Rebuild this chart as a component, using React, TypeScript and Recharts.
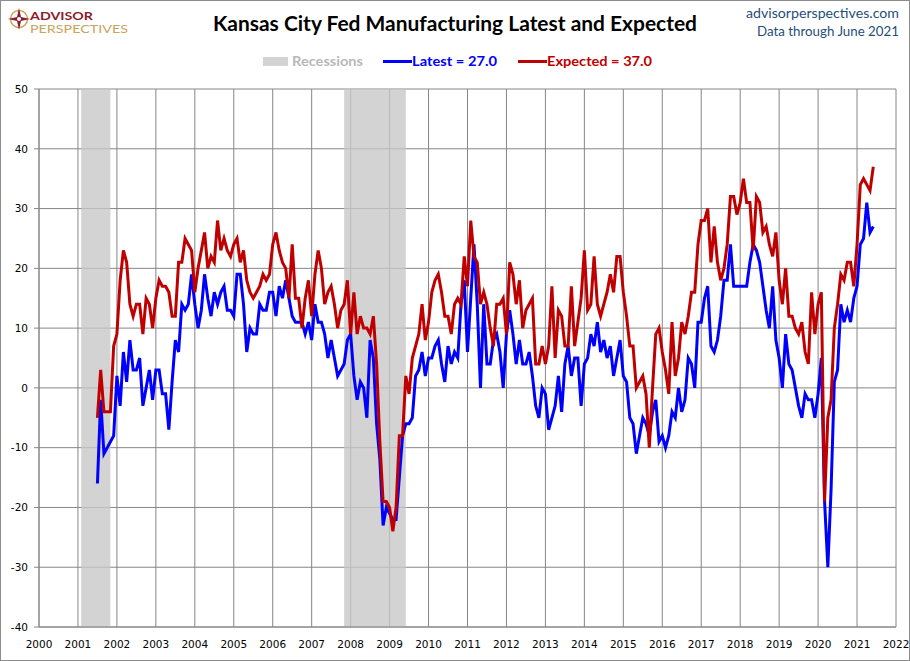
import { LineChart, Line, XAxis, YAxis, CartesianGrid, ReferenceArea } from "recharts";

// Kansas City Fed manufacturing survey: current composite ("Latest") vs the
// six-month-ahead composite ("Expected"), monthly Jul 2001 .. Jun 2021.
// Values, one row per calendar year.

document.body.style.margin = "0";

const FIRST_YEAR = 2001;
const FIRST_MONTH = 7; // July

const latest = [
  -16, -2, -11, -10, -9, -8, // 2001 (Jul-Dec)
  2, -3, 6, 1, 8, 3, 3, 5, -3, 0, 3, -2, // 2002
  3, 3, -1, -1, -7, 1, 8, 6, 14, 13, 14, 19, // 2003
  14, 10, 13, 19, 15, 12, 16, 14, 16, 17, 13, 13, // 2004
  12, 19, 19, 14, 6, 10, 9, 9, 14, 13, 13, 16, // 2005
  16, 12, 17, 15, 18, 15, 12, 11, 11, 11, 9, 11, // 2006
  8, 14, 11, 11, 9, 5, 8, 5, 2, 3, 4, 8, // 2007
  9, 2, -2, 1, 0, -5, 8, 5, -6, -12, -23, -20, // 2008
  -21, -22, -22, -15, -8, -6, -6, -5, 2, 3, 6, 2, // 2009
  5, 5, 7, 8, 4, 1, 7, 4, 6, 5, 14, 18, // 2010
  6, 15, 24, 14, 0, 14, 4, 4, 8, 9, 6, 0, // 2011
  9, 13, 9, 4, 8, 4, 4, 6, 2, -3, -5, 0, // 2012
  -1, -7, -5, -3, 2, -4, 4, 7, 2, 5, 5, -3, // 2013
  4, 5, 9, 7, 11, 6, 8, 5, 7, 2, 5, 8, // 2014
  2, 1, -5, -6, -11, -8, -5, -6, -8, -4, -2, -9, // 2015
  -8, -10, -8, -4, -5, 0, -4, -2, 5, 4, 0, 11, // 2016
  11, 15, 17, 7, 6, 8, 12, 18, 18, 24, 17, 17, // 2017
  17, 17, 17, 21, 24, 23, 21, 17, 13, 10, 17, 8, // 2018
  5, 0, 9, 4, 3, 0, -3, -5, -1, -2, -2, -5, // 2019
  -1, 5, -19, -30, -17, 1, 3, 14, 11, 13, 11, 15, // 2020
  17, 24, 25, 31, 26, 27, // 2021 (Jan-Jun)
];

const expected = [
  -5, 3, -4, -4, -4, 7, // 2001 (Jul-Dec)
  9, 18, 23, 21, 14, 12, 14, 14, 9, 15, 14, 10, // 2002
  15, 18, 17, 17, 16, 12, 12, 21, 21, 25, 24, 23, // 2003
  16, 20, 23, 26, 20, 22, 21, 28, 23, 25, 23, 22, // 2004
  24, 25, 21, 23, 18, 16, 15, 16, 17, 19, 18, 19, // 2005
  24, 26, 23, 21, 20, 15, 24, 15, 15, 10, 15, 18, // 2006
  12, 19, 23, 20, 14, 16, 17, 14, 10, 13, 14, 18, // 2007
  9, 16, 9, 12, 10, 10, 9, 12, 4, -9, -19, -19, // 2008
  -20, -24, -20, -8, -8, 2, -1, 5, 7, 9, 14, 8, // 2009
  11, 16, 18, 19, 16, 12, 12, 9, 14, 15, 14, 22, // 2010
  17, 28, 22, 21, 14, 16, 14, 10, 7, 14, 14, 15, // 2011
  9, 21, 19, 14, 18, 10, 13, 14, 15, 4, 4, 7, // 2012
  4, 7, 17, 5, 13, 12, 7, 7, 17, 7, 11, 15, // 2013
  23, 13, 14, 22, 14, 12, 14, 16, 19, 16, 22, 22, // 2014
  16, 12, 7, 7, 0, 1, 2, -1, -10, 0, 9, 10, // 2015
  6, 3, -1, 11, 2, 5, 11, 9, 12, 16, 16, 24, // 2016
  28, 28, 30, 21, 27, 21, 18, 20, 24, 32, 32, 29, // 2017
  31, 35, 31, 31, 23, 32, 31, 26, 27, 24, 22, 26, // 2018
  18, 14, 20, 12, 12, 10, 9, 11, 6, 4, 16, 9, // 2019
  14, 16, -19, -5, -2, 10, 14, 19, 18, 21, 21, 17, // 2020
  24, 34, 35, 34, 33, 37, // 2021 (Jan-Jun)
];

// NBER recessions as drawn (peak month .. trough month), decimal years
const recessionStarts = [2001 + 1 / 12, 2007 + 10 / 12];
const recessionEnds = [2001 + 10 / 12, 2009 + 5 / 12];

const yearTicks = [
  2000, 2001, 2002, 2003, 2004, 2005, 2006, 2007, 2008, 2009, 2010, 2011,
  2012, 2013, 2014, 2015, 2016, 2017, 2018, 2019, 2020, 2021, 2022,
];
const valueTicks = [-40, -30, -20, -10, 0, 10, 20, 30, 40, 50];

const data = latest.map((v, i) => ({
  t: FIRST_YEAR + (FIRST_MONTH - 1 + i) / 12,
  latest: v,
  expected: expected[i],
}));

const GRID = "#868686";
const BLUE = "#0000FF";
const RED = "#C00000";
const TICK_FONT = "'DejaVu Sans', sans-serif";
const HEAD_FONT = "Lato, 'Open Sans', sans-serif";

function Header() {
  return (
    <svg
      width={910}
      height={80}
      style={{ position: "absolute", left: 0, top: 0, pointerEvents: "none" }}
    >
      {/* logo */}
      <circle cx={19} cy={19} r={8.5} fill="none" stroke="#C9A45C" strokeWidth={1.5} />
      <polygon
        points="19,8 21,17 30,19 21,21 19,30 17,21 8,19 17,17"
        fill="#8B1E2B"
      />
      <circle cx={19} cy={19} r={2} fill="#fff" />
      <text x={30} y={19.5} fontFamily={HEAD_FONT} fontWeight="bold" fontSize={11.5}
        fill="#8B1E2B" textLength={63} lengthAdjust="spacingAndGlyphs">ADVISOR</text>
      <text x={30} y={33} fontFamily={HEAD_FONT} fontSize={11.5}
        fill="#C9A45C" textLength={98} lengthAdjust="spacingAndGlyphs">PERSPECTIVES</text>

      {/* title */}
      <text x={455} y={31} textAnchor="middle" fontFamily={HEAD_FONT} fontWeight="bold"
        fontSize={20} fill="#000" textLength={484} lengthAdjust="spacingAndGlyphs">
        Kansas City Fed Manufacturing Latest and Expected
      </text>

      {/* source */}
      <text x={899} y={18} textAnchor="end" fontFamily={HEAD_FONT} fontSize={14}
        fill="#1F4E79" textLength={153} lengthAdjust="spacingAndGlyphs">advisorperspectives.com</text>
      <text x={899} y={36} textAnchor="end" fontFamily={HEAD_FONT} fontSize={14}
        fill="#1F4E79" textLength={142} lengthAdjust="spacingAndGlyphs">Data through June 2021</text>

      {/* legend */}
      <rect x={263} y={57} width={25} height={9} fill="#D3D3D3" />
      <text x={292} y={66} fontFamily={HEAD_FONT} fontWeight="bold" fontSize={14}
        fill="#B8B8B8" textLength={71} lengthAdjust="spacingAndGlyphs">Recessions</text>
      <line x1={383} x2={412} y1={61.5} y2={61.5} stroke={BLUE} strokeWidth={3} />
      <text x={412} y={66} fontFamily={HEAD_FONT} fontWeight="bold" fontSize={14}
        fill={BLUE} textLength={85} lengthAdjust="spacingAndGlyphs">Latest = 27.0</text>
      <line x1={518} x2={547} y1={61.5} y2={61.5} stroke={RED} strokeWidth={3} />
      <text x={547} y={66} fontFamily={HEAD_FONT} fontWeight="bold" fontSize={14}
        fill={RED} textLength={105} lengthAdjust="spacingAndGlyphs">Expected = 37.0</text>
    </svg>
  );
}

export default function App() {
  return (
    <div style={{ position: "relative", width: 910, height: 661, background: "#fff" }}>
      <LineChart
        width={910}
        height={661}
        data={data}
        margin={{ top: 89, right: 14, bottom: 0, left: 0 }}
      >
        <CartesianGrid stroke={GRID} strokeWidth={1} />
        {/* translucent so the grid shows through the bands, as in the original */}
        {recessionStarts.map((s, i) => (
          <ReferenceArea
            key={i}
            x1={s}
            x2={recessionEnds[i]}
            y1={-40}
            y2={50}
            fill="#C6C6C6"
            fillOpacity={0.78}
            stroke="none"
          />
        ))}
        <XAxis
          dataKey="t"
          type="number"
          domain={[2000, 2022]}
          ticks={yearTicks}
          interval={0}
          height={34}
          tickLine={false}
          tickMargin={8}
          axisLine={{ stroke: GRID }}
          tick={{ fontSize: 10.5, fill: "#000", fontFamily: TICK_FONT }}
        />
        <YAxis
          type="number"
          domain={[-40, 50]}
          ticks={valueTicks}
          interval={0}
          width={39}
          tickSize={5}
          tickMargin={6}
          tickLine={{ stroke: GRID }}
          axisLine={{ stroke: GRID }}
          tick={{ fontSize: 10.5, fill: "#000", fontFamily: TICK_FONT }}
        />
        <Line
          type="linear"
          dataKey="latest"
          stroke={BLUE}
          strokeWidth={3}
          dot={false}
          isAnimationActive={false}
        />
        <Line
          type="linear"
          dataKey="expected"
          stroke={RED}
          strokeWidth={3}
          dot={false}
          isAnimationActive={false}
        />
      </LineChart>
      <Header />
      <div
        style={{
          position: "absolute",
          inset: 0,
          border: "1px solid #8c8c8c",
          boxSizing: "border-box",
          pointerEvents: "none",
        }}
      />
    </div>
  );
}
